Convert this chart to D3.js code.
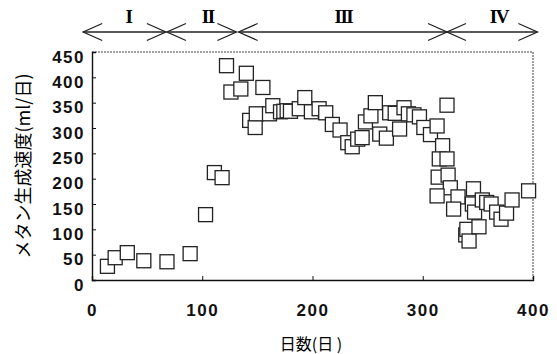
<!DOCTYPE html>
<html>
<head>
<meta charset="utf-8">
<script src="https://cdn.jsdelivr.net/npm/d3@7"></script>
<style>
  body { margin: 0; background: #fff; }
  svg { display: block; }
</style>
</head>
<body>
<div id="display"></div>
<script>
// days elapsed and methane production rate (ml/day)
const days = [14, 21, 32, 47, 68, 89, 103, 111, 118, 122, 126, 135, 140, 143, 148, 149, 155,
  161, 164, 171, 174, 177, 180, 188, 193, 199, 206, 212, 218, 225, 232, 236, 241, 245, 248, 253, 257,
  261, 267, 270, 275, 279, 283, 287, 292, 297, 301, 307, 313, 318, 315, 322, 314, 322, 323, 325, 313, 332, 328,
  339, 340, 342, 345, 346, 347, 351, 354, 358, 362, 367, 371, 376, 381, 396]
const rates = [27, 44, 54, 38, 36, 52, 129, 212, 202, 423, 371, 377, 408, 315, 301, 328, 380,
  328, 344, 332, 333, 334, 333, 338, 360, 332, 338, 330, 307, 296, 271, 263, 278, 281, 312, 324, 350,
  288, 280, 330, 329, 298, 340, 328, 326, 322, 301, 287, 304, 265, 239, 239, 203, 345, 207, 182, 166, 164, 140,
  89, 100, 77, 150, 180, 134, 105, 158, 153, 150, 134, 120, 132, 158, 176]

const xTicks = [0, 100, 200, 300, 400]
const yTicks = [0, 50, 100, 150, 200, 250, 300, 350, 400, 450]

const phaseLabels = ["I", "II", "III", "IV"]
const phaseStart = [-8, 68, 133, 322]
const phaseEnd = [67, 131, 322, 404]
const phaseMid = [33, 105, 228, 369]

const width = 557
const height = 354
const margin = { top: 52, right: 24, bottom: 74, left: 92 }

const svg = d3.select("#display")
  .append("svg")
  .attr("width", width)
  .attr("height", height)

svg.append("rect").attr("width", width).attr("height", height).attr("fill", "#fff")

const x = d3.scaleLinear().domain([0, 400]).range([margin.left, width - margin.right])
const y = d3.scaleLinear().domain([0, 450]).range([height - margin.bottom, margin.top])

// dotted frame on top and right
svg.append("line")
  .attr("x1", x(0)).attr("x2", x(400)).attr("y1", y(450)).attr("y2", y(450))
  .attr("stroke", "#444").attr("stroke-width", 1).attr("stroke-dasharray", "2,1")
svg.append("line")
  .attr("x1", x(400)).attr("x2", x(400)).attr("y1", y(450)).attr("y2", y(0))
  .attr("stroke", "#444").attr("stroke-width", 1).attr("stroke-dasharray", "2,1")

const tickFont = "'Liberation Sans', Arial, sans-serif"

const xAxis = svg.append("g")
  .attr("transform", `translate(0, ${y(0)})`)
  .call(d3.axisBottom(x).tickValues(xTicks).tickSize(-4).tickPadding(24).tickFormat(d3.format("d")))
xAxis.select(".domain").attr("stroke", "#111").attr("stroke-width", 1.4)
xAxis.selectAll(".tick line").attr("stroke", "#111")
  .filter(d => d === 0 || d === 400).remove()

const yAxis = svg.append("g")
  .attr("transform", `translate(${x(0)}, 0)`)
  .call(d3.axisLeft(y).tickValues(yTicks).tickSize(-4).tickPadding(7))
yAxis.select(".domain").attr("stroke", "#111").attr("stroke-width", 1.4)
yAxis.selectAll(".tick line").attr("stroke", "#111")
  .filter(d => d === 0 || d === 450).remove()
yAxis.selectAll(".tick text").attr("dy", "0.6em")

svg.selectAll(".tick text")
  .attr("fill", "#111")
  .style("font-family", tickFont)
  .style("font-size", "17px")
  .style("font-weight", "bold")
  .style("letter-spacing", "1.5px")

// markers: open squares
const size = 14
svg.append("g")
  .selectAll("rect")
  .data(days.map((d, i) => ({ day: d, rate: rates[i] })))
  .enter()
  .append("rect")
    .attr("x", d => x(d.day) - size / 2)
    .attr("y", d => y(d.rate) - size / 2)
    .attr("width", size)
    .attr("height", size)
    .attr("fill", "#fff")
    .attr("stroke", "#222")
    .attr("stroke-width", 1.3)

// phase arrows
const arrowY = 32
const armX = 19
const armY = 8.5
const arrows = svg.append("g").attr("stroke", "#222").attr("stroke-width", 1.3).attr("fill", "none")
phaseLabels.forEach((label, i) => {
  const x0 = x(phaseStart[i])
  const x1 = x(phaseEnd[i])
  arrows.append("line").attr("x1", x0).attr("x2", x1).attr("y1", arrowY).attr("y2", arrowY)
  arrows.append("path").attr("d", `M${x0 + armX},${arrowY - armY}L${x0},${arrowY}L${x0 + armX},${arrowY + armY}`)
  arrows.append("path").attr("d", `M${x1 - armX},${arrowY - armY}L${x1},${arrowY}L${x1 - armX},${arrowY + armY}`)
  svg.append("text")
    .attr("x", x(phaseMid[i]))
    .attr("y", 23)
    .attr("text-anchor", "middle")
    .style("font-family", "'Liberation Serif', 'Times New Roman', serif")
    .style("font-weight", "bold")
    .style("font-size", "19px")
    .style("letter-spacing", "-1.5px")
    .text(label)
})

// axis titles
svg.append("text")
  .attr("x", 311)
  .attr("y", 350)
  .attr("text-anchor", "middle")
  .style("font-family", "'Noto Sans CJK JP', sans-serif")
  .style("font-size", "16px")
  .text("日数(日 )")

svg.append("text")
  .attr("transform", `translate(30, 166) rotate(-90)`)
  .attr("text-anchor", "middle")
  .style("font-family", "'Noto Sans CJK JP', sans-serif")
  .style("font-size", "18px")
  .text("メタン生成速度(ml/日)")
</script>
</body>
</html>
